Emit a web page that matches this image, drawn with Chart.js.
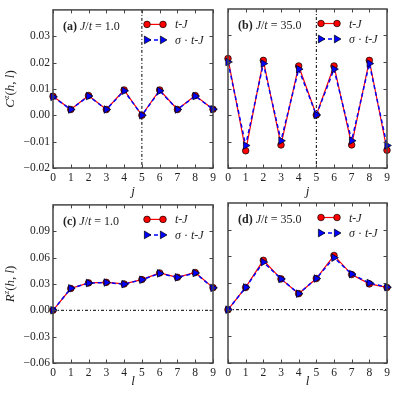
<!DOCTYPE html>
<html>
<head>
<meta charset="utf-8">
<script src="https://cdn.jsdelivr.net/npm/chart.js@4.4.1/dist/chart.umd.min.js"></script>
<style>
  html, body { margin: 0; padding: 0; background: #fff; }
  #wrap { position: relative; width: 399px; height: 399px; overflow: hidden; }
  canvas { position: absolute; }
</style>
</head>
<body>
<div id="wrap">
  <canvas id="pa" width="220" height="200" style="left:0;top:0"></canvas>
  <canvas id="pb" width="179" height="200" style="left:220px;top:0"></canvas>
  <canvas id="pc" width="220" height="204" style="left:0;top:195px"></canvas>
  <canvas id="pd" width="179" height="204" style="left:220px;top:195px"></canvas>
</div>
<script>
// site index along the chain
const sites = ['0', '1', '2', '3', '4', '5', '6', '7', '8', '9'];

// C^z(h,l) vs j
const corrA_tJ  = [0.0072, 0.0022, 0.0075, 0.0022, 0.0096, 0.0000, 0.0096, 0.0022, 0.0075, 0.0023];
const corrA_sig = [0.0070, 0.0022, 0.0073, 0.0022, 0.0093, 0.0000, 0.0093, 0.0022, 0.0073, 0.0023];
const corrB_tJ  = [0.0213, -0.0135, 0.0206, -0.0113, 0.0185, 0.0000, 0.0185, -0.0113, 0.0206, -0.0133];
const corrB_sig = [0.0200, -0.0115, 0.0194, -0.0097, 0.0173, 0.0000, 0.0173, -0.0097, 0.0194, -0.0115];

// R^z(h,l) vs l
const rC_tJ  = [0.0000, 0.0248, 0.0312, 0.0318, 0.0300, 0.0350, 0.0425, 0.0376, 0.0430, 0.0258];
const rC_sig = [0.0000, 0.0250, 0.0310, 0.0316, 0.0298, 0.0348, 0.0420, 0.0375, 0.0425, 0.0256];
const rD_tJ  = [0.0000, 0.0250, 0.0555, 0.0346, 0.0180, 0.0350, 0.0610, 0.0395, 0.0290, 0.0250];
const rD_sig = [0.0000, 0.0250, 0.0535, 0.0346, 0.0180, 0.0350, 0.0585, 0.0400, 0.0300, 0.0252];

const corrTicks = [-0.02, -0.01, 0.00, 0.01, 0.02, 0.03];
const rTicks = [-0.06, -0.03, 0.00, 0.03, 0.06, 0.09];

const SERIF = '"Liberation Serif", "DejaVu Serif", serif';
const FRAME = '#444';

function fmt(v) {
  const s = Math.abs(v).toFixed(2);
  return v < -1e-9 ? '\u2212' + s : s;
}

// draw a run of [text, style, size, dy] pieces, return end x
function drawRuns(ctx, runs, x, y) {
  for (const [txt, style, size, dy] of runs) {
    ctx.font = style + ' ' + size + 'px ' + SERIF;
    ctx.fillText(txt, x, y + (dy || 0));
    x += ctx.measureText(txt).width;
  }
  return x;
}
function runsWidth(ctx, runs) {
  let w = 0;
  for (const [txt, style, size] of runs) {
    ctx.font = style + ' ' + size + 'px ' + SERIF;
    w += ctx.measureText(txt).width;
  }
  return w;
}

const deco = {
  id: 'deco',
  beforeDatasetsDraw(chart, args, o) {
    const { ctx, chartArea: a, scales } = chart;
    ctx.save();
    ctx.strokeStyle = '#000';
    ctx.lineWidth = 1;
    ctx.setLineDash([3, 2, 1, 2]);
    ctx.beginPath();
    if (o.vline != null) {
      const x = scales.x.getPixelForValue(o.vline);
      ctx.moveTo(x, a.top); ctx.lineTo(x, a.bottom);
    }
    if (o.hline != null) {
      const y = scales.y.getPixelForValue(o.hline);
      ctx.moveTo(a.left, y); ctx.lineTo(a.right, y);
    }
    ctx.stroke();
    ctx.restore();
  },
  afterDraw(chart, args, o) {
    const { ctx, chartArea: a, scales } = chart;
    ctx.save();
    // inward ticks on all four sides
    ctx.strokeStyle = FRAME;
    ctx.lineWidth = 1;
    ctx.beginPath();
    scales.x.ticks.forEach((t, i) => {
      const x = Math.round(scales.x.getPixelForTick(i)) + 0.5;
      ctx.moveTo(x, a.bottom); ctx.lineTo(x, a.bottom - 3.5);
      ctx.moveTo(x, a.top); ctx.lineTo(x, a.top + 3.5);
    });
    scales.y.ticks.forEach((t, i) => {
      const y = Math.round(scales.y.getPixelForTick(i)) + 0.5;
      ctx.moveTo(a.left, y); ctx.lineTo(a.left + 3.5, y);
      ctx.moveTo(a.right, y); ctx.lineTo(a.right - 3.5, y);
    });
    ctx.stroke();
    // frame
    ctx.lineWidth = 1.5;
    ctx.strokeRect(a.left, a.top, a.right - a.left, a.bottom - a.top);

    ctx.fillStyle = '#222';
    ctx.textBaseline = 'alphabetic';
    ctx.textAlign = 'left';
    // panel label
    drawRuns(ctx, o.title, a.left + 10, a.top + 20);

    // legend
    const lx1 = a.right - 66, lx2 = a.right - 50, tx = a.right - 38;
    const y1 = a.top + 14.5, y2 = a.top + 30;
    ctx.lineWidth = 1.2;
    ctx.strokeStyle = '#ff0000';
    ctx.setLineDash([]);
    ctx.beginPath(); ctx.moveTo(lx1, y1); ctx.lineTo(lx2, y1); ctx.stroke();
    ctx.strokeStyle = '#0000ff';
    ctx.lineWidth = 1.5;
    ctx.setLineDash([4, 3]);
    ctx.beginPath(); ctx.moveTo(lx1, y2); ctx.lineTo(lx2, y2); ctx.stroke();
    ctx.setLineDash([]);
    ctx.lineWidth = 0.7;
    ctx.strokeStyle = '#000';
    [lx1, lx2].forEach(x => {
      ctx.fillStyle = '#ff0000';
      ctx.beginPath(); ctx.arc(x, y1, 3.3, 0, Math.PI * 2); ctx.fill(); ctx.stroke();
      ctx.fillStyle = '#0000ff';
      ctx.beginPath();
      ctx.moveTo(x + 4, y2); ctx.lineTo(x - 2.6, y2 - 3.9); ctx.lineTo(x - 2.6, y2 + 3.9);
      ctx.closePath(); ctx.fill(); ctx.stroke();
    });
    ctx.fillStyle = '#222';
    drawRuns(ctx, [['t', 'italic', 12], ['-', '', 12], ['J', 'italic', 12]], tx, y1 + 4);
    drawRuns(ctx, [['\u03c3', 'italic', 12], [' \u00b7 ', '', 12], ['t', 'italic', 12], ['-', '', 12], ['J', 'italic', 12]], tx, y2 + 4);

    // x label
    ctx.textAlign = 'center';
    ctx.font = 'italic 13px ' + SERIF;
    ctx.fillText(o.xlabel, (a.left + a.right) / 2, o.xlabelY);

    // y label
    if (o.ylabel) {
      ctx.save();
      ctx.translate(14, (a.top + a.bottom) / 2);
      ctx.rotate(-Math.PI / 2);
      ctx.textAlign = 'left';
      const w = runsWidth(ctx, o.ylabel);
      drawRuns(ctx, o.ylabel, -w / 2, 0);
      ctx.restore();
    }
    ctx.restore();
  }
};

function makeChart(id, tJ, sig, opt) {
  const ctx = document.getElementById(id);
  return new Chart(ctx, {
    type: 'line',
    data: {
      labels: sites,
      datasets: [{
        label: 't-J',
        data: tJ,
        order: 2,
        borderColor: '#ff0000',
        borderWidth: 1.2,
        backgroundColor: '#ff0000',
        pointBackgroundColor: '#ff0000',
        pointBorderColor: '#000',
        pointBorderWidth: 0.7,
        pointRadius: 3.3,
        pointStyle: 'circle',
        tension: 0
      }, {
        label: '\u03c3 \u00b7 t-J',
        data: sig,
        order: 1,
        borderColor: '#0000ff',
        borderWidth: 1.5,
        borderDash: [4, 3],
        backgroundColor: '#0000ff',
        pointBackgroundColor: '#0000ff',
        pointBorderColor: '#000',
        pointBorderWidth: 0.7,
        pointRadius: 4.4,
        pointStyle: 'triangle',
        pointRotation: 90,
        tension: 0
      }]
    },
    options: {
      responsive: false,
      animation: false,
      events: [],
      clip: false,
      layout: { padding: opt.padding },
      plugins: {
        legend: { display: false },
        tooltip: { enabled: false },
        deco: opt.deco
      },
      scales: {
        x: {
          type: 'category',
          offset: false,
          grid: { display: false, drawTicks: false },
          border: { display: false },
          ticks: {
            color: '#222',
            padding: 3,
            maxRotation: 0,
            autoSkip: false,
            font: { family: SERIF, size: 11.5 }
          },
          afterFit: s => { s.height = opt.xh; }
        },
        y: {
          min: opt.ymin,
          max: opt.ymax,
          grid: { display: false, drawTicks: false },
          border: { display: false },
          afterBuildTicks: s => { s.ticks = opt.yticks.map(v => ({ value: v })); },
          ticks: {
            display: opt.showY,
            color: '#222',
            padding: 3,
            font: { family: SERIF, size: 11.5 },
            callback: v => fmt(v)
          },
          afterFit: s => { s.width = opt.yw; }
        }
      }
    },
    plugins: [deco]
  });
}

const yC = [['C', 'italic', 13], ['z', 'italic', 9, -5], ['(', '', 13], ['h', 'italic', 13], [', ', '', 13], ['l', 'italic', 13], [')', '', 13]];
const yR = [['R', 'italic', 13], ['z', 'italic', 9, -5], ['(', '', 13], ['h', 'italic', 13], [', ', '', 13], ['l', 'italic', 13], [')', '', 13]];

function title(tag, val) {
  return [['(' + tag + ')', 'bold', 12], [' ', '', 12], ['J', 'italic', 12], ['/', '', 12], ['t', 'italic', 12], [' = ' + val, '', 12]];
}

makeChart('pa', corrA_tJ, corrA_sig, {
  padding: { left: 0, right: 7, top: 9, bottom: 0 },
  xh: 32, yw: 53, ymin: -0.02, ymax: 0.04, yticks: corrTicks, showY: true,
  deco: { title: title('a', '1.0'), vline: 5, xlabel: 'j', xlabelY: 195, ylabel: yC }
});
makeChart('pb', corrB_tJ, corrB_sig, {
  padding: { left: 0, right: 12, top: 9, bottom: 0 },
  xh: 32, yw: 8, ymin: -0.02, ymax: 0.04, yticks: corrTicks, showY: false,
  deco: { title: title('b', '35.0'), vline: 5, xlabel: 'j', xlabelY: 195 }
});
makeChart('pc', rC_tJ, rC_sig, {
  padding: { left: 0, right: 7, top: 8, bottom: 0 },
  xh: 36, yw: 53, ymin: -0.06, ymax: 0.12, yticks: rTicks, showY: true,
  deco: { title: title('c', '1.0'), hline: 0, xlabel: 'l', xlabelY: 190, ylabel: yR }
});
makeChart('pd', rD_tJ, rD_sig, {
  padding: { left: 0, right: 12, top: 8, bottom: 0 },
  xh: 36, yw: 8, ymin: -0.06, ymax: 0.12, yticks: rTicks, showY: false,
  deco: { title: title('d', '35.0'), hline: 0, xlabel: 'l', xlabelY: 190 }
});
</script>
</body>
</html>
